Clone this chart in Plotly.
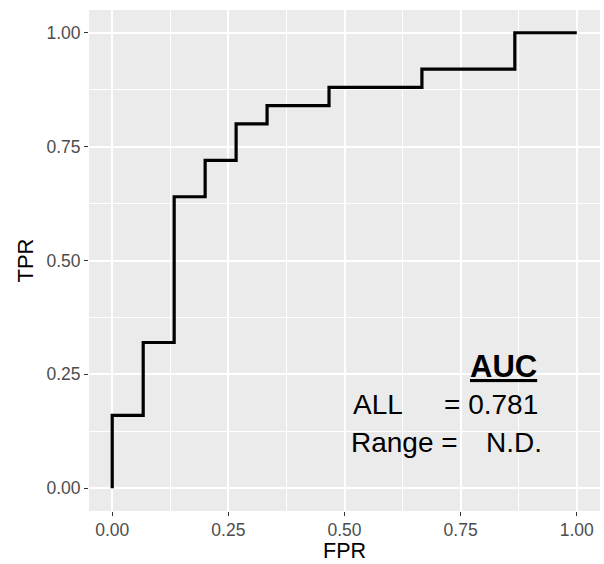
import plotly.graph_objects as go

# ROC step points (FPR, TPR)
fpr = [0.0, 0.0, 1/15, 2/15, 3/15, 4/15, 5/15, 7/15, 10/15, 13/15, 1.0]
tpr = [0.0, 0.16, 0.32, 0.64, 0.72, 0.80, 0.84, 0.88, 0.92, 1.00, 1.00]

tick_vals = [0.0, 0.25, 0.5, 0.75, 1.0]
tick_text = ["0.00", "0.25", "0.50", "0.75", "1.00"]

auc_all = "0.781"
auc_range = "N.D."

FONT = "Liberation Sans, Arial, Helvetica, sans-serif"

fig = go.Figure()
fig.add_trace(go.Scatter(
    x=fpr, y=tpr, mode="lines", line=dict(color="black", width=3.2, shape="hv"),
    showlegend=False, hoverinfo="skip"))

axis_common = dict(
    range=[-0.05, 1.05], tickvals=tick_vals, ticktext=tick_text,
    showgrid=True, gridcolor="white", gridwidth=2,
    minor=dict(dtick=0.125, tick0=0.125, showgrid=True, gridcolor="white", gridwidth=1, ticks=""),
    zeroline=False, showline=False,
    ticks="outside", ticklen=4, tickwidth=1.2, tickcolor="#333333",
    tickfont=dict(family=FONT, size=17.5, color="#4D4D4D"),
    fixedrange=True,
)

fig.update_xaxes(**axis_common, ticklabelstandoff=-1)
fig.update_yaxes(**axis_common, title=dict(text="TPR", font=dict(family=FONT, size=22, color="black"), standoff=6))

# x-axis title placed just below the tick labels
fig.add_annotation(x=0.5, y=-0.1058, xref="paper", yref="paper", text="FPR",
                   xanchor="center", yanchor="bottom", showarrow=False, borderpad=0,
                   font=dict(family=FONT, size=21.5, color="black"))

fs = 28
ann = [
    dict(x=0.843, y=0.268, text="<b><u>AUC</u></b>", xanchor="center", size=31),
    dict(x=0.513, y=0.184, text="ALL", xanchor="left", size=fs),
    dict(x=0.710, y=0.184, text="= " + auc_all, xanchor="left", size=fs),
    dict(x=0.509, y=0.101, text="Range =", xanchor="left", size=fs),
    dict(x=0.800, y=0.101, text=auc_range, xanchor="left", size=fs),
]
for a in ann:
    fig.add_annotation(x=a["x"], y=a["y"], xref="x", yref="y", text=a["text"],
                       xanchor=a["xanchor"], yanchor="middle", showarrow=False,
                       font=dict(family=FONT, size=a["size"], color="black"))

fig.update_layout(
    width=604, height=564,
    margin=dict(l=89, r=4, t=10, b=53, autoexpand=False),
    plot_bgcolor="#EBEBEB", paper_bgcolor="white",
)

fig.write_html("out.html", config={"displayModeBar": False})
